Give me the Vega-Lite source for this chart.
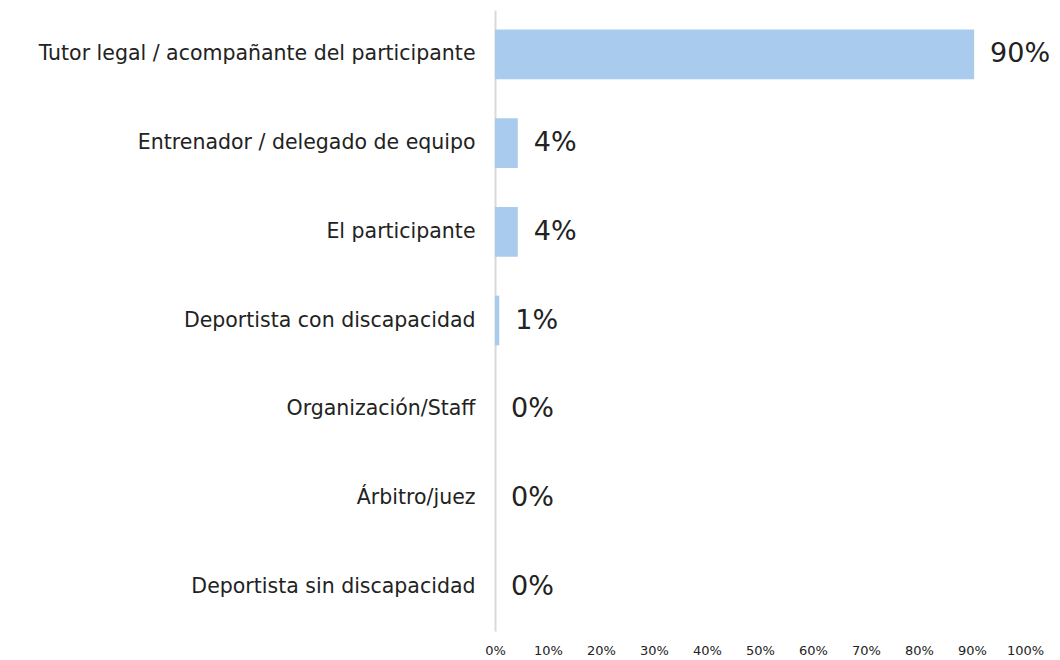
{
  "$schema": "https://vega.github.io/schema/vega-lite/v6.json",
  "width": 530,
  "height": 621,
  "autosize": {"type": "none"},
  "padding": {"left": 495, "top": 10, "right": 35, "bottom": 29},
  "background": "white",
  "config": {"view": {"stroke": null}, "font": "DejaVu Sans"},
  "data": {"values": [
    {"cat": "Tutor legal / acompañante del participante", "v": 0.904, "label": "90%"},
    {"cat": "Entrenador / delegado de equipo", "v": 0.043, "label": "4%"},
    {"cat": "El participante", "v": 0.043, "label": "4%"},
    {"cat": "Deportista con discapacidad", "v": 0.008, "label": "1%"},
    {"cat": "Organización/Staff", "v": 0.0, "label": "0%"},
    {"cat": "Árbitro/juez", "v": 0.0, "label": "0%"},
    {"cat": "Deportista sin discapacidad", "v": 0.0, "label": "0%"}
  ]},
  "encoding": {
    "y": {"field": "cat", "type": "nominal", "sort": null, "title": null,
      "scale": {"paddingInner": 0.44, "paddingOuter": 0.22},
      "axis": {"domainColor": "#d9d9d9", "domainWidth": 2, "ticks": false, "labelFontSize": 20.5, "labelColor": "#222222", "labelPadding": 20, "labelLimit": 0}},
    "x": {"field": "v", "type": "quantitative", "title": null,
      "scale": {"domain": [0, 1], "nice": false},
      "axis": {"format": ".0%", "values": [0,0.1,0.2,0.3,0.4,0.5,0.6,0.7,0.8,0.9,1], "labelFlush": false, "domain": false, "ticks": false, "grid": false, "labelFontSize": 13, "labelColor": "#222222", "labelPadding": 13}}
  },
  "layer": [
    {"mark": {"type": "bar", "color": "#a9cbee"}},
    {"mark": {"type": "text", "align": "left", "baseline": "middle", "dx": 16, "fontSize": 27, "color": "#222222"},
     "encoding": {"text": {"field": "label"}}}
  ]
}
